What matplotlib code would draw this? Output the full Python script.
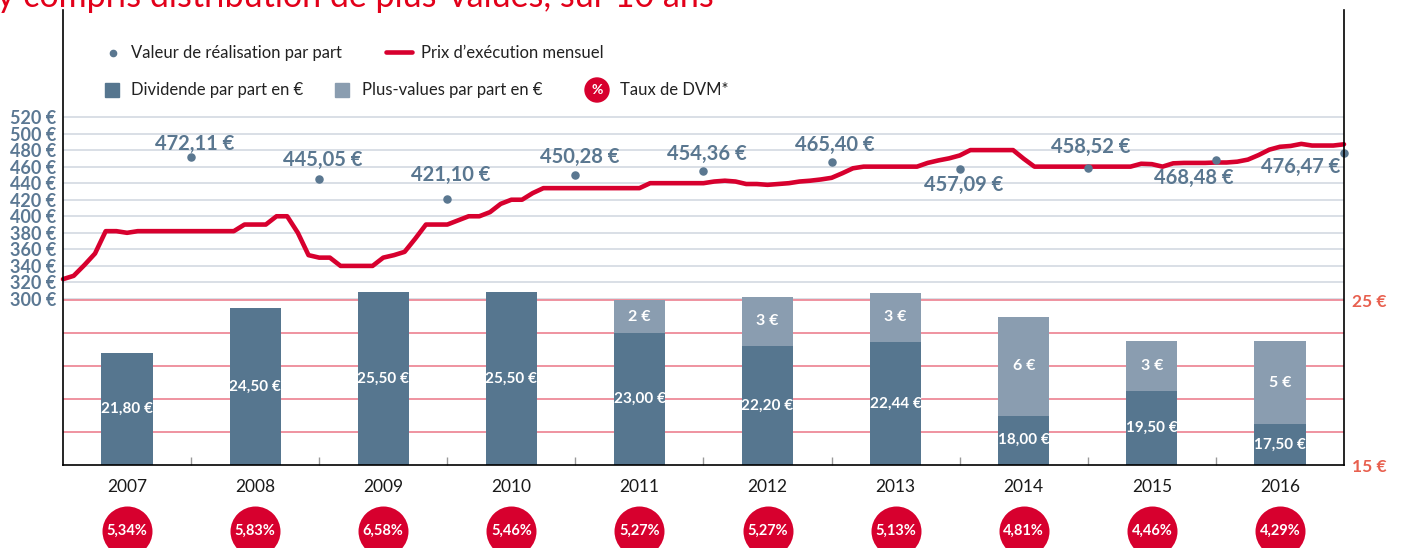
import numpy as np
import matplotlib
matplotlib.use("Agg")
import matplotlib.pyplot as plt
from matplotlib import transforms
from matplotlib.patches import Rectangle, Circle

# ---------------- data ----------------
years = ["2007", "2008", "2009", "2010", "2011", "2012", "2013", "2014", "2015", "2016"]
dividends = [21.80, 24.50, 25.50, 25.50, 23.00, 22.20, 22.44, 18.00, 19.50, 17.50]
plus_values = [0, 0, 0, 0, 2, 3, 3, 6, 3, 5]
dvm_rates = ["5,34%", "5,83%", "6,58%", "5,46%", "5,27%", "5,27%", "5,13%", "4,81%", "4,46%", "4,29%"]
realisation = [472.11, 445.05, 421.10, 450.28, 454.36, 465.40, 457.09, 458.52, 468.48, 476.47]
# monthly execution price, Jan 2007 -> Dec 2016 (121 points)
price_monthly = [
    324, 328, 341, 355, 382, 382, 380, 382, 382, 382, 382, 382,
    382, 382, 382, 382, 382, 390, 390, 390, 400, 400, 380, 353,
    350, 350, 340, 340, 340, 340, 350, 353, 357, 373, 390, 390,
    390, 395, 400, 400, 405, 415, 420, 420, 428, 434, 434, 434,
    434, 434, 434, 434, 434, 434, 434, 440, 440, 440, 440, 440,
    440, 442, 443, 442, 439, 439, 438, 439, 440, 442, 443, 444.5,
    446.5, 452, 458, 460, 460, 460, 460, 460, 460, 464.5, 467.5, 470,
    473.5, 480, 480, 480, 480, 480, 469.5, 460, 460, 460, 460, 460,
    460, 460, 460, 460, 460, 463.5, 463, 460, 464, 464.5, 464.5, 464.5,
    465, 465, 466, 468.5, 474, 480.5, 484, 485, 487.5, 485.5, 485.5, 485.5,
    487,
]
price_ticks = [300, 320, 340, 360, 380, 400, 420, 440, 460, 480, 500, 520]
bar_ticks = [15, 25]
bar_grid = [17, 19, 21, 23, 25]

# ---------------- layout / style ----------------
W, H = 1402, 548
L, R, TOP, BOT = 63, 1344, 10, 465
BAR_PX_PER_EUR = 16.5
PRICE_PX_PER_EUR = 182 / 220.0
Y300_PX = 299
# label offsets in pixels (dx, dy; dy positive = up)
label_offsets = [(4, 13), (4, 19), (3, 24), (4, 18), (3, 17), (3, 17),
                 (4, -16), (3, 21), (-22, -18), (-43, -14)]

RED = "#d7002e"
DARK = "#56768f"
LIGHT = "#8a9db0"
SLATE = "#5a7790"
FONT = ["Lato", "DejaVu Sans"]
plt.rcParams["font.family"] = FONT

fig = plt.figure(figsize=(W / 100, H / 100), dpi=100)
ax_bar = fig.add_axes([L / W, 1 - BOT / H, (R - L) / W, (BOT - TOP) / H])
ax_price = ax_bar.twinx()
ax_bar.set_zorder(2)
ax_price.set_zorder(1)
ax_bar.patch.set_visible(False)

x = np.arange(len(years))
ax_bar.set_xlim(-0.5, len(years) - 0.5)
ax_bar.set_ylim(15, 15 + (BOT - TOP) / BAR_PX_PER_EUR)
ax_price.set_ylim(300 - (BOT - Y300_PX) / PRICE_PX_PER_EUR,
                  300 + (Y300_PX - TOP) / PRICE_PX_PER_EUR)

# gridlines
for v in price_ticks:
    ax_price.axhline(v, color="#d3d9e1", lw=1.2, zorder=0)
for v in bar_grid:
    ax_bar.axhline(v, color="#ee8a98", lw=1.3, zorder=0)

# bars
ax_bar.bar(x, dividends, width=0.4, color=DARK, zorder=2)
ax_bar.bar(x, plus_values, width=0.4, bottom=dividends, color=LIGHT, zorder=2)
for i, (d, p) in enumerate(zip(dividends, plus_values)):
    ax_bar.text(i, (15 + d) / 2, f"{d:.2f}".replace(".", ",") + " €", ha="center",
                va="center", color="white", fontsize=11, fontweight="bold", zorder=3)
    if p > 0:
        ax_bar.text(i, d + p / 2, f"{p} €", ha="center", va="center", color="white",
                    fontsize=11.5, fontweight="bold", zorder=3)

# price line
months_x = np.arange(len(price_monthly)) / 12.0 - 0.5
ax_price.plot(months_x, price_monthly, color=RED, lw=3.3, solid_joinstyle="round",
              solid_capstyle="round", clip_on=False, zorder=3)

# realisation values
rx = x + 0.5
ax_price.scatter(rx, realisation, s=26, color=SLATE, clip_on=False, zorder=4)
for i, v in enumerate(realisation):
    dx, dy = label_offsets[i]
    ax_price.annotate(f"{v:.2f}".replace(".", ",") + " €", (rx[i], v),
                      xytext=(dx * 0.72, dy * 0.72), textcoords="offset points",
                      ha="center", va="center", color=SLATE, fontsize=14.5,
                      fontweight="bold", annotation_clip=False, zorder=5)

# axes ticks
ax_price.yaxis.tick_left()
ax_price.set_yticks(price_ticks, [f"{v} €" for v in price_ticks])
ax_price.tick_params(axis="y", length=0, pad=5, labelsize=13, labelcolor="#5b7893")
for t in ax_price.get_yticklabels():
    t.set_fontweight("bold")
ax_bar.yaxis.tick_right()
ax_bar.set_yticks(bar_ticks, [f"{v} €" for v in bar_ticks])
ax_bar.tick_params(axis="y", length=0, pad=6, labelsize=12.5, labelcolor="#e8604f")
for t in ax_bar.get_yticklabels():
    t.set_fontweight("bold")

ax_bar.set_xticks(x, years)
ax_bar.set_xticks(x[:-1] + 0.5, minor=True)
ax_bar.tick_params(axis="x", which="major", length=0, pad=10, labelsize=12.5,
                   labelcolor="#1a1a1a")
ax_bar.tick_params(axis="x", which="minor", direction="in", length=6, width=1,
                   color="#999999")

for s in ax_price.spines.values():
    s.set_visible(False)
ax_bar.spines["top"].set_visible(False)
for k in ("left", "right", "bottom"):
    ax_bar.spines[k].set_color("black")
    ax_bar.spines[k].set_linewidth(1.2)

# DVM circles
blend = transforms.blended_transform_factory(ax_bar.transData, fig.transFigure)
yc = 1 - 531 / H
ax_bar.scatter(x, [yc] * len(x), s=36 ** 2, color=RED, transform=blend,
               clip_on=False, zorder=5, linewidths=0)
for i, r in enumerate(dvm_rates):
    ax_bar.text(i, yc, r, transform=blend, ha="center", va="center", color="white",
                fontsize=10.5, fontweight="bold", clip_on=False, zorder=6)

# overlay: title + legend (pixel coordinates)
ov = fig.add_axes([0, 0, 1, 1])
ov.set_xlim(0, W)
ov.set_ylim(H, 0)
ov.axis("off")
ov.patch.set_visible(False)
ov.set_zorder(10)
ov.text(-3, 7, "y compris distribution de plus-values, sur 10 ans", color="#e2001a",
        fontsize=24.5, ha="left", va="baseline")

ov.plot([113], [53], "o", color=SLATE, ms=4.5)
ov.text(131, 53, "Valeur de réalisation par part", fontsize=12, va="center",
        color="#222222")
ov.plot([386, 412], [52, 52], color=RED, lw=3.3, solid_capstyle="round")
ov.text(421, 53, "Prix d’exécution mensuel", fontsize=12, va="center", color="#222222")

ov.add_patch(Rectangle((105, 83), 14, 14, color=DARK))
ov.text(131, 90, "Dividende par part en €", fontsize=12, va="center", color="#222222")
ov.add_patch(Rectangle((335, 83), 14, 14, color=LIGHT))
ov.text(362, 90, "Plus-values par part en €", fontsize=12, va="center", color="#222222")
ov.add_patch(Circle((597, 90), 12, color=RED))
ov.text(597, 90.5, "%", fontsize=10, fontweight="bold", color="white", ha="center",
        va="center")
ov.text(620, 90, "Taux de DVM*", fontsize=12, va="center", color="#222222")

fig.savefig("out.png", dpi=100)
